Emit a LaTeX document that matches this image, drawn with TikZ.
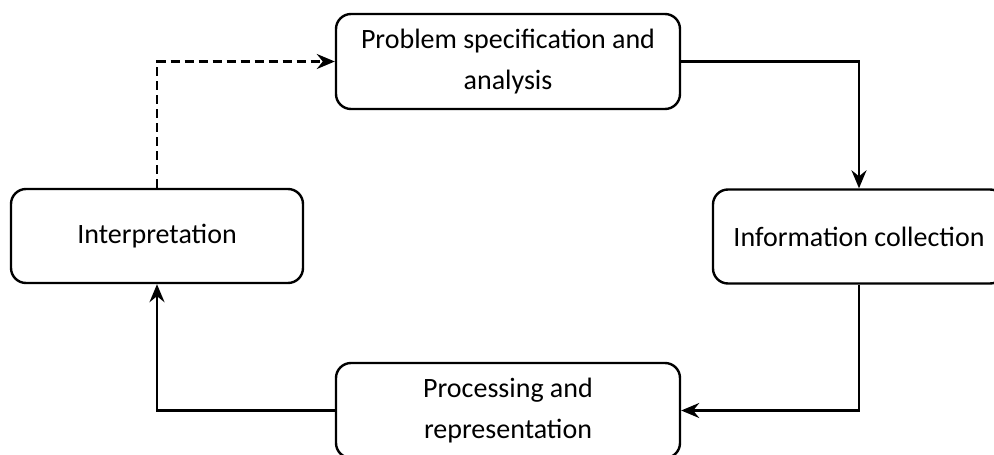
\documentclass[tikz,border=0pt]{standalone}
\usepackage{fontspec}
\setmainfont{Carlito}
\usetikzlibrary{arrows.meta}
\begin{document}
\begin{tikzpicture}[x=1pt,y=-1pt,
  stagebox/.style={draw, line width=2.4pt, rounded corners=15pt, align=center,
    font=\fontsize{28}{41}\selectfont, inner sep=0pt},
  widebox/.style={stagebox, minimum width=344pt, minimum height=95pt},
  narrowbox/.style={stagebox, minimum width=292pt, minimum height=94pt},
  conn/.style={line width=2.4pt, -{Stealth[length=18pt,width=15pt,inset=6pt]}},
  dashconn/.style={conn, dash pattern=on 9pt off 5pt}]
\useasboundingbox (0,0) rectangle (994,455);
\clip (0,0) rectangle (994,455);
\node[widebox] (top) at (508,61.5) {Problem specification and\\analysis};
\node[narrowbox] (right) at (859,236.5) {Information collection};
\node[widebox] (bottom) at (508,410.5) {Processing and\\representation};
\node[narrowbox] (left) at (157,236) {Interpretation};
\draw[conn] (top.east) -| (right.north);
\draw[conn] (right.south) |- (bottom.east);
\draw[conn] (bottom.west) -| (left.south);
\draw[dashconn] (left.north) |- (top.west);
\end{tikzpicture}
\end{document}
